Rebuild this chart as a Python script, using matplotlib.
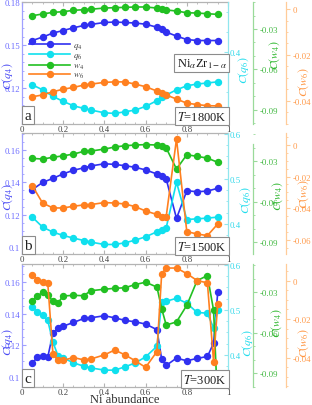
"""
Bond-order correlation curves of Ni(alpha)Zr(1-alpha) at three temperatures.

Three stacked panels, each with four y scales (q4 left, q6 / w4 / w6 right).
"""

import matplotlib

matplotlib.use("Agg")

import matplotlib.pyplot as plt
from matplotlib.ticker import FuncFormatter, MultipleLocator

plt.rcParams["font.family"] = ["Liberation Serif", "DejaVu Serif"]
plt.rcParams["mathtext.fontset"] = "stix"
plt.rcParams["axes.unicode_minus"] = False

# ---------------------------------------------------------------- data
X_A = [0.05, 0.1, 0.15, 0.2, 0.25, 0.3, 0.333, 0.4, 0.45, 0.5, 0.55, 0.6,
       0.655, 0.678, 0.7, 0.75, 0.8, 0.85, 0.9, 0.95]
Q4_A = [0.1533, 0.1557, 0.1585, 0.1603, 0.1622, 0.1638, 0.1645, 0.1659, 0.1662,
        0.1659, 0.1655, 0.1647, 0.1626, 0.1611, 0.1592, 0.1564, 0.1540, 0.1533,
        0.1533, 0.1533]
Q6_A = [0.3838, 0.3813, 0.3780, 0.3755, 0.3733, 0.3720, 0.3712, 0.3698, 0.3695,
        0.3703, 0.3712, 0.3730, 0.3759, 0.3778, 0.3787, 0.3813, 0.3833, 0.3842,
        0.3847, 0.3853]
W4_A = [-0.0201, -0.0188, -0.0176, -0.0171, -0.0161, -0.0156, -0.0153, -0.0144,
        -0.0141, -0.0139, -0.0136, -0.0136, -0.0144, -0.0152, -0.0158, -0.0166,
        -0.0179, -0.0181, -0.0186, -0.0191]
W6_A = [-0.0383, -0.0375, -0.0361, -0.0350, -0.0342, -0.0332, -0.0328, -0.0320,
        -0.0318, -0.0318, -0.0328, -0.0339, -0.0358, -0.0366, -0.0375, -0.0393,
        -0.0411, -0.0417, -0.0422, -0.0423]

X_B = X_A
Q4_B = [0.1355, 0.1399, 0.1424, 0.1452, 0.1474, 0.1489, 0.1500, 0.1514, 0.1510,
        0.1502, 0.1492, 0.1476, 0.1451, 0.1436, 0.1420, 0.1178, 0.1348, 0.1342,
        0.1346, 0.1363]
Q6_B = [0.4153, 0.3932, 0.3821, 0.3746, 0.3688, 0.3635, 0.3600, 0.3547, 0.3547,
        0.3584, 0.3644, 0.3717, 0.3828, 0.3872, 0.3916, 0.4927, 0.4100, 0.4115,
        0.4131, 0.4153]
W4_B = [-0.0278, -0.0283, -0.0270, -0.0259, -0.0246, -0.0226, -0.0224, -0.0209,
        -0.0194, -0.0184, -0.0179, -0.0176, -0.0179, -0.0184, -0.0201, -0.0357,
        -0.0251, -0.0263, -0.0276, -0.0307]
W6_B = [-0.0258, -0.0367, -0.0398, -0.0398, -0.0387, -0.0379, -0.0377, -0.0364,
        -0.0367, -0.0373, -0.0390, -0.0417, -0.0439, -0.0455, -0.0452, 0.0036,
        -0.0547, -0.0562, -0.0572, -0.0499]

X_C = [0.05, 0.075, 0.1, 0.125, 0.15, 0.175, 0.2, 0.25, 0.3, 0.333, 0.4, 0.45,
       0.5, 0.55, 0.6, 0.655, 0.678, 0.7, 0.75, 0.8, 0.85, 0.9, 0.93, 0.95]
Q4_C = [0.1090, 0.1127, 0.1131, 0.1127, 0.1276, 0.1307, 0.1321, 0.1344, 0.1369,
        0.1373, 0.1386, 0.1373, 0.1357, 0.1348, 0.1334, 0.1299, 0.1114, 0.1075,
        0.1121, 0.1104, 0.1119, 0.1131, 0.1214, 0.1532]
Q6_C = [0.5075, 0.4943, 0.4876, 0.4766, 0.4287, 0.3978, 0.3934, 0.3823, 0.3750,
        0.3713, 0.3662, 0.3662, 0.3735, 0.3823, 0.3956, 0.4192, 0.5170, 0.5192,
        0.5258, 0.5148, 0.4943, 0.4927, 0.4596, 0.5000]
W4_C = [-0.0366, -0.0331, -0.0300, -0.0320, -0.0369, -0.0379, -0.0329, -0.0324,
        -0.0327, -0.0290, -0.0279, -0.0272, -0.0268, -0.0244, -0.0227, -0.0263,
        -0.0423, -0.0544, -0.0521, -0.0398, -0.0215, -0.0178, -0.0435, -0.1150]
W6_C = [0.0031, 0.0005, -0.0008, -0.0012, -0.0379, -0.0414, -0.0414, -0.0400,
        -0.0412, -0.0408, -0.0386, -0.0361, -0.0386, -0.0417, -0.0451, -0.0369,
        0.0035, 0.0065, 0.0065, 0.0036, 0.0000, -0.0012, -0.0421, -0.0120]

SERIES_NAMES = ["$q_4$", "$q_6$", "$w_4$", "$w_6$"]
PANEL_TAGS = ["a", "b", "c"]
TEMPERATURES = ["1800K", "1500K", "300K"]

# ---------------------------------------------------------------- style
LINE_COLORS = ["#3030f0", "#10e0ee", "#22c022", "#ff8020"]
SPINE_COLORS = ["#a0a0ff", "#90e6ee", "#9ada9a", "#ffcc99"]
LABEL_COLORS = ["#6a6aff", "#30d8ea", "#40b840", "#ff9a4a"]
AXIS_TITLE_COLORS = ["#4848f4", "#20dcec", "#30b830", "#ff9540"]
FRAME_GRAY = "#b4b4b4"
TEXT_GRAY = "#404040"

# axes rectangles [left, bottom, width, height] in figure fraction
PANEL_RECTS = [
    [0.0705, 0.6921, 0.6603, 0.3005],
    [0.0705, 0.3719, 0.6603, 0.2980],
    [0.0705, 0.0443, 0.6603, 0.3030],
]
# y limits for (q4, q6, w4, w6)
PANEL_LIMITS = [
    [(0.0950, 0.1802), (0.3642, 0.4252), (-0.1006, -0.0099), (-0.0502, 0.0031)],
    [(0.0959, 0.1703), (0.3336, 0.6015), (-0.0987, -0.0090), (-0.0688, 0.0074)],
    [(0.0940, 0.1710), (0.3287, 0.6020), (-0.1003, -0.0092), (-0.0553, 0.0086)],
]
# (major, minor) tick steps for (q4, q6, w4, w6)
PANEL_STEPS = [
    [(0.03, 0.006), (0.1, 0.01), (0.03, 0.01), (0.02, 0.005)],
    [(0.02, 0.005), (0.1, 0.025), (0.03, 0.01), (0.02, 0.005)],
    [(0.02, 0.005), (0.1, 0.025), (0.03, 0.01), (0.02, 0.005)],
]
# axis-label centres (x, y) in axes fraction for (q4, q6, w4, w6)
LABEL_POS = [
    [(-0.070, 0.40), (1.078, 0.45), (1.226, 0.574), (1.368, 0.355)],
    [(-0.070, 0.48), (1.086, 0.455), (1.240, 0.483), (1.368, 0.50)],
    [(-0.070, 0.37), (1.094, 0.363), (1.234, 0.53), (1.368, 0.363)],
]
SPINE_OFFSETS = [1.0, 1.121, 1.282]


def tick_text(value, _pos=None):
    """Format ticks the way the original does: 0.1, 0.12, -0.03, 0."""
    value = round(value, 4) + 0.0
    return f"{value:g}"


def style_twin(axis, color, label_color, offset, direction):
    """Turn a twinx axis into a coloured right-hand scale."""
    for name in ("left", "top", "bottom"):
        axis.spines[name].set_visible(False)
    axis.spines["right"].set_position(("axes", offset))
    axis.spines["right"].set_color(color)
    axis.spines["right"].set_linewidth(0.9)
    axis.tick_params(axis="y", which="both", direction=direction, right=True,
                     left=False, color=color, labelcolor=label_color,
                     labelsize=6.3, pad=1.5)
    axis.tick_params(axis="y", which="major", length=3)
    axis.tick_params(axis="y", which="minor", length=1.5)


def draw_panel(fig, index, x, values):
    rect = PANEL_RECTS[index]
    limits = PANEL_LIMITS[index]
    steps = PANEL_STEPS[index]

    ax = fig.add_axes(rect)
    ax.set_xlim(0, 1)
    ax.xaxis.set_major_locator(MultipleLocator(0.2))
    ax.xaxis.set_minor_locator(MultipleLocator(0.05))
    ax.xaxis.set_major_formatter(FuncFormatter(tick_text))
    ax.tick_params(axis="x", which="both", direction="in", top=True,
                   color=FRAME_GRAY, labelcolor=TEXT_GRAY, labelsize=6.3, pad=0.6)
    ax.tick_params(axis="x", which="major", length=3)
    ax.tick_params(axis="x", which="minor", length=1.5)
    ax.tick_params(axis="y", which="both", direction="in", left=True, right=False,
                   color=SPINE_COLORS[0], labelcolor=LABEL_COLORS[0],
                   labelsize=6.3, pad=1.5)
    ax.tick_params(axis="y", which="major", length=3)
    ax.tick_params(axis="y", which="minor", length=1.5)
    ax.spines["right"].set_visible(False)
    ax.spines["left"].set_color(SPINE_COLORS[0])
    for name in ("top", "bottom"):
        ax.spines[name].set_color(FRAME_GRAY)
    for spine in ax.spines.values():
        spine.set_linewidth(0.9)

    axes = [ax]
    for k in range(3):
        twin = ax.twinx()
        style_twin(twin, SPINE_COLORS[k + 1], LABEL_COLORS[k + 1],
                   SPINE_OFFSETS[k], "in" if k == 0 else "out")
        axes.append(twin)

    handles = []
    for k, axis in enumerate(axes):
        (line,) = axis.plot(x, values[k], color=LINE_COLORS[k], lw=1.2,
                            marker="o", ms=4.3, mec=LINE_COLORS[k],
                            label=SERIES_NAMES[k])
        handles.append(line)
        axis.set_ylim(*limits[k])
        axis.yaxis.set_major_locator(MultipleLocator(steps[k][0]))
        axis.yaxis.set_minor_locator(MultipleLocator(steps[k][1]))
        axis.yaxis.set_major_formatter(FuncFormatter(tick_text))
        lx, ly = LABEL_POS[index][k]
        axis.text(lx, ly, f"$C({SERIES_NAMES[k][1:-1]})$",
                  transform=ax.transAxes, rotation=90, ha="center", va="center",
                  fontsize=8.5, color=AXIS_TITLE_COLORS[k])

    if index == 1:
        axes[2].spines["right"].set_bounds(limits[2][0], -0.0172)

    top = axes[-1]
    box = dict(boxstyle="square,pad=0.18", fc="white", ec="#8c8c8c", lw=0.8)
    top.text(0.012, 0.02, PANEL_TAGS[index], transform=ax.transAxes,
             ha="left", va="bottom", fontsize=11, color="#202020", bbox=box)
    top.text(0.993, 0.012, f"$T$={TEMPERATURES[index]}", transform=ax.transAxes,
             ha="right", va="bottom", fontsize=9, color="#202020", bbox=box)

    if index == 0:
        top.text(0.993, 0.50, r"Ni$_\alpha$Zr$_{1-\alpha}$",
                 transform=ax.transAxes, ha="right", va="center", fontsize=9,
                 color="#202020", bbox=box)
        legend = top.legend(handles, SERIES_NAMES, loc="center left",
                            bbox_to_anchor=(0.035, 0.52), frameon=False,
                            fontsize=6.5, handlelength=4.5, labelspacing=0.0,
                            handletextpad=0.3, borderpad=0, borderaxespad=0)
        for text in legend.get_texts():
            text.set_color(TEXT_GRAY)

    return ax


def main():
    fig = plt.figure(figsize=(3.12, 4.06), dpi=100)
    draw_panel(fig, 0, X_A, [Q4_A, Q6_A, W4_A, W6_A])
    draw_panel(fig, 1, X_B, [Q4_B, Q6_B, W4_B, W6_B])
    draw_panel(fig, 2, X_C, [Q4_C, Q6_C, W4_C, W6_C])
    fig.text(0.4006, 0.0, "Ni abundance", ha="center", va="bottom",
             fontsize=9, color="#303030")
    fig.savefig("out.png", dpi=100)
    plt.close(fig)


if __name__ == "__main__":
    main()
